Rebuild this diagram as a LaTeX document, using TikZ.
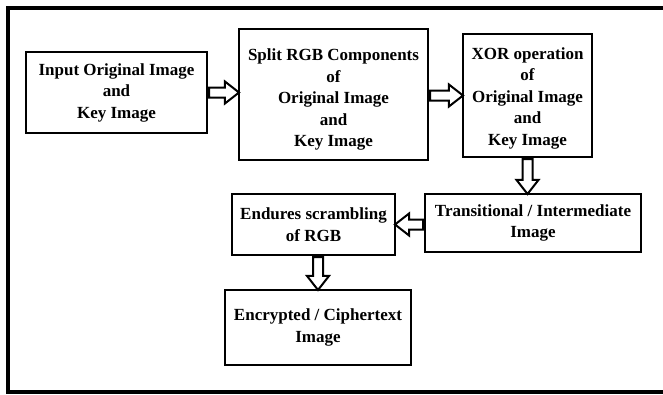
\documentclass[tikz,border=0pt]{standalone}
\usepackage{fontspec}
\setmainfont{Liberation Serif}
\usetikzlibrary{calc,shapes.arrows}

\tikzset{
  stage/.style={draw,line width=2pt,align=center,inner sep=2pt,
    font=\fontsize{17}{21.5}\selectfont\bfseries},
  arrowbox/.style={single arrow,draw,line width=2pt,inner sep=4pt,
    single arrow head extend=6pt,single arrow tip angle=76},
  flow/.style={to path={let \p1=(\tikztostart), \p2=(\tikztotarget),
    \n1={veclen(\x2-\x1,\y2-\y1)} in (\p1) -- node[arrowbox,at start,sloped,
    allow upside down,anchor=tail,minimum height=\n1] {} (\p2)}}
}

\begin{document}
\begin{tikzpicture}[x=1pt,y=-1pt]
  \useasboundingbox (0,0) rectangle (663,394);

  % Frame (open on the right)
  \draw[line width=4pt] (663,8) -- (8,8) -- (8,391.5) -- (663,391.5);

  % Top row
  \node[stage,minimum width=181,minimum height=81] (in) at (116.5,92.5)
    {Input Original Image\\and\\Key Image};
  \node[stage,minimum width=189,minimum height=131] (split) at (333.5,94.5)
    {\rule{0pt}{22pt}Split RGB Components\\of\\Original Image\\and\\Key Image};
  \node[stage,minimum width=129,minimum height=123] (xor) at (527.5,95.5)
    {\rule{0pt}{17pt}XOR operation\\of\\Original Image\\and\\Key Image};

  % Second row
  \node[stage,minimum width=216,minimum height=58] (inter) at (533,223)
    {Transitional / Intermediate\\Image};
  \node[stage,minimum width=163,minimum height=61] (scram) at (313.5,224.5)
    {Endures scrambling\\of RGB};

  % Result
  \node[stage,minimum width=186,minimum height=75] (cipher) at (318,327.5)
    {Encrypted / Ciphertext\\Image};

  % Hollow arrows
  \path (in.east) to[flow] (in.east -| split.west);
  \path (xor.west -| split.east) to[flow] (xor.west);
  \path (xor.south) to[flow] (xor.south |- inter.north);
  \path (scram.east -| inter.west) to[flow] (scram.east);
  \path (cipher.north |- scram.south) to[flow] (cipher.north);
\end{tikzpicture}
\end{document}
